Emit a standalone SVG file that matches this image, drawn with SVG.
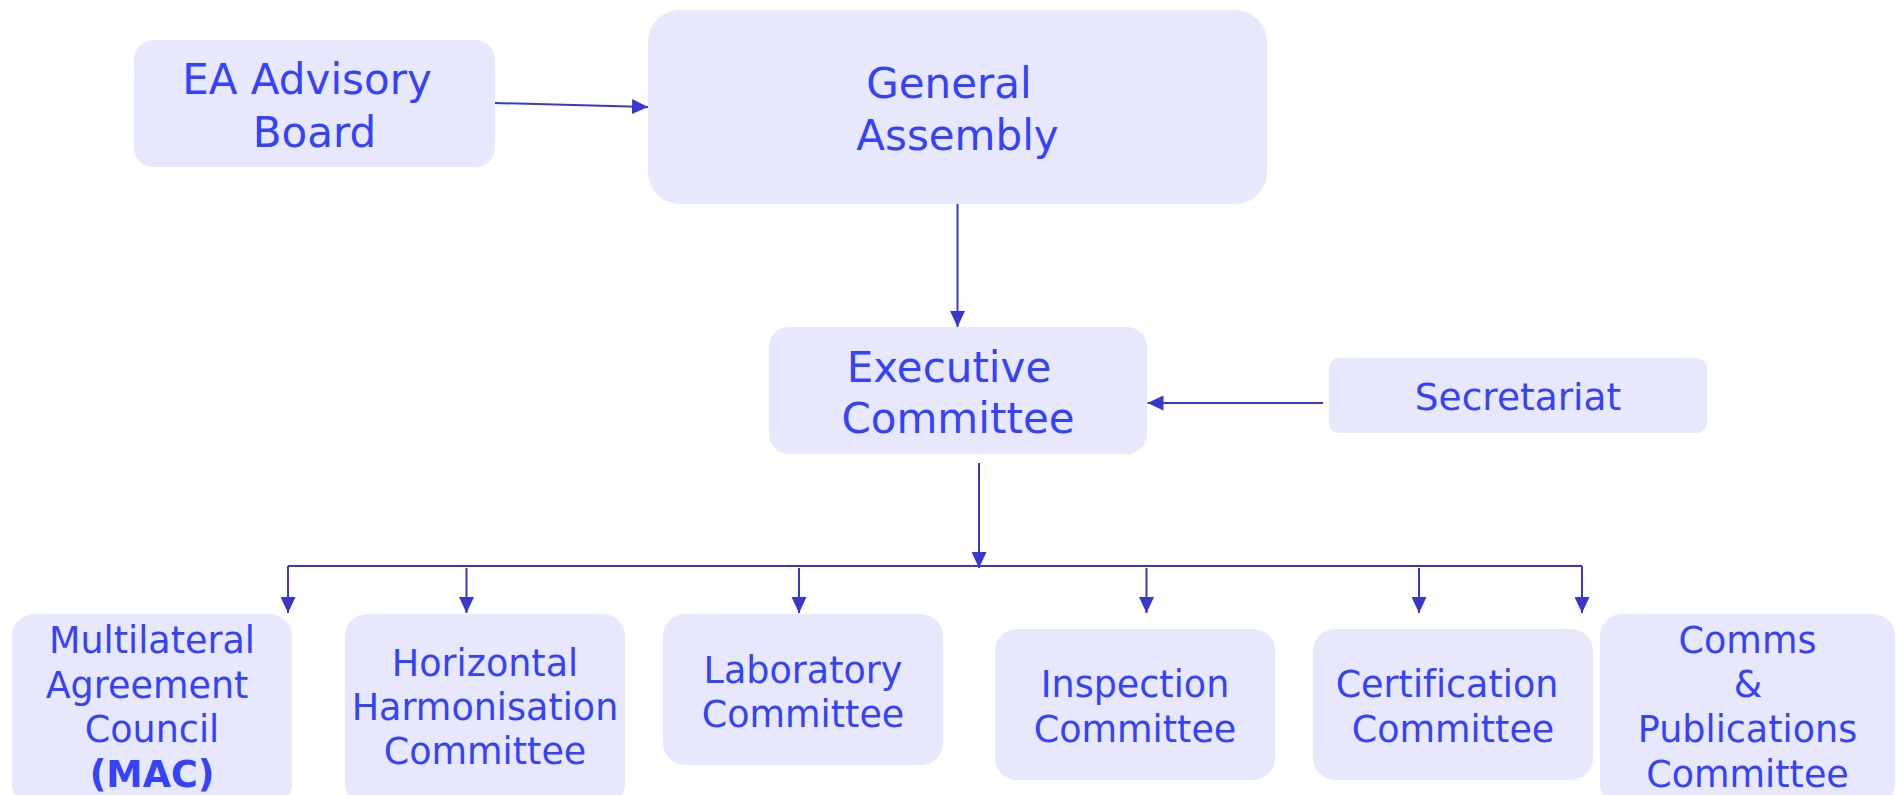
<svg xmlns="http://www.w3.org/2000/svg" width="1898" height="795" viewBox="0 0 1898 795">
<style>
.box{fill:#e8e8fd;}
.t{font-family:"DejaVu Sans","Liberation Sans",sans-serif;fill:#3442fa;text-anchor:middle;font-variant-ligatures:none;}
.big{font-size:42px;}
.mid{font-size:37.5px;}
.sm{font-size:36.5px;}
.b{font-weight:bold;}
.c{fill:none;stroke:#3838cc;stroke-width:2;}
</style>
<defs>
<marker id="ah" markerUnits="userSpaceOnUse" markerWidth="16" markerHeight="15" refX="16" refY="7.5" orient="auto">
<path d="M0,0 L16,7.5 L0,15 Z" fill="#3838cc"/>
</marker>
</defs>
<rect width="1898" height="795" fill="#ffffff"/>
<g id="connectors">
<path class="c" d="M495,103 L648,107" marker-end="url(#ah)"/>
<path class="c" d="M957.5,204 V327" marker-end="url(#ah)"/>
<path class="c" d="M1323,403 H1147.5" marker-end="url(#ah)"/>
<path class="c" d="M979,463 V568" marker-end="url(#ah)"/>
<path class="c" d="M288,566 H1582"/>
<path class="c" d="M288,566 V613" marker-end="url(#ah)"/>
<path class="c" d="M466.5,568 V613" marker-end="url(#ah)"/>
<path class="c" d="M799,568 V613" marker-end="url(#ah)"/>
<path class="c" d="M1146.5,568 V613" marker-end="url(#ah)"/>
<path class="c" d="M1419,568 V613" marker-end="url(#ah)"/>
<path class="c" d="M1582,566 V613" marker-end="url(#ah)"/>
</g>
<g id="ea-advisory-board">
<rect class="box" x="134" y="40" width="361" height="127" rx="20"/>
<text class="t big" x="307" y="94">EA Advisory</text>
<text class="t big" x="314.5" y="147">Board</text>
</g>
<g id="general-assembly">
<rect class="box" x="648" y="10" width="619" height="194" rx="32"/>
<text class="t big" x="949" y="98">General</text>
<text class="t big" x="957.5" y="150">Assembly</text>
</g>
<g id="executive-committee">
<rect class="box" x="769" y="327" width="378" height="127" rx="20"/>
<text class="t big" x="949" y="382">Executive</text>
<text class="t big" x="958" y="433">Committee</text>
</g>
<g id="secretariat">
<rect class="box" x="1329" y="358" width="378" height="75" rx="10"/>
<text class="t mid" x="1518" y="410">Secretariat</text>
</g>
<g id="mac">
<rect class="box" x="12" y="614" width="280" height="192" rx="22"/>
<text class="t sm" x="152" y="653">Multilateral</text>
<text class="t sm" x="147" y="698">Agreement</text>
<text class="t sm" x="152" y="742">Council</text>
<text class="t sm b" x="152" y="787">(MAC)</text>
</g>
<g id="horizontal-harmonisation-committee">
<rect class="box" x="345" y="614" width="280" height="192" rx="22"/>
<text class="t sm" x="485" y="676">Horizontal</text>
<text class="t sm" x="485" y="720">Harmonisation</text>
<text class="t sm" x="485" y="764">Committee</text>
</g>
<g id="laboratory-committee">
<rect class="box" x="663" y="614" width="280" height="151" rx="22"/>
<text class="t sm" x="803" y="683">Laboratory</text>
<text class="t sm" x="803" y="727">Committee</text>
</g>
<g id="inspection-committee">
<rect class="box" x="995" y="629" width="280" height="151" rx="22"/>
<text class="t sm" x="1135" y="697">Inspection</text>
<text class="t sm" x="1135" y="741.5">Committee</text>
</g>
<g id="certification-committee">
<rect class="box" x="1313" y="629" width="280" height="151" rx="22"/>
<text class="t sm" x="1447" y="697">Certification</text>
<text class="t sm" x="1453" y="741.5">Committee</text>
</g>
<g id="comms-publications-committee">
<rect class="box" x="1600" y="614" width="295" height="192" rx="22"/>
<text class="t sm" x="1747.5" y="653">Comms</text>
<text class="t sm" x="1748" y="697">&amp;</text>
<text class="t sm" x="1747.5" y="742">Publications</text>
<text class="t sm" x="1747.5" y="787">Committee</text>
</g>
</svg>
